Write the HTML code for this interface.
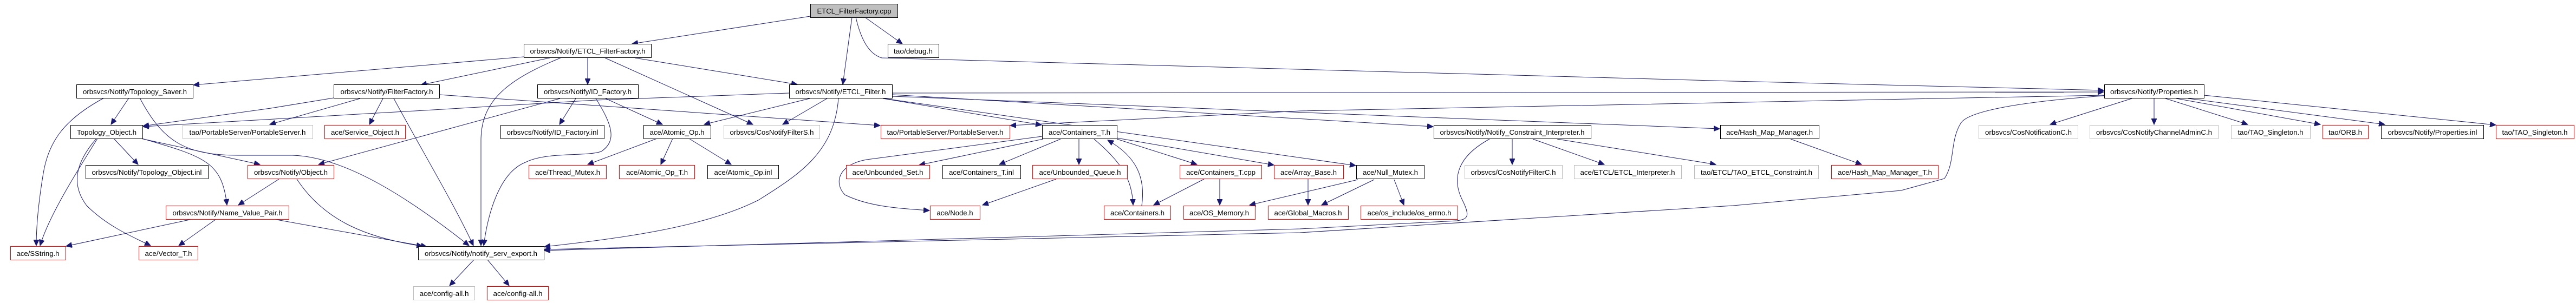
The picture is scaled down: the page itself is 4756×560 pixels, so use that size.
<!DOCTYPE html>
<html><head><meta charset="utf-8"><style>
html,body{margin:0;padding:0;background:#fff}
svg{display:block}
text{font-family:"Liberation Sans",sans-serif;font-size:13px;fill:#000}
.e{fill:none;stroke:#191970;stroke-width:1}
</style></head><body>
<svg width="4756" height="560" viewBox="0 0 4756 560" xmlns="http://www.w3.org/2000/svg">
<defs>
<marker id="a" markerUnits="userSpaceOnUse" markerWidth="12" markerHeight="10" refX="11" refY="5" orient="auto">
<path d="M0,0 L11,5 L0,10 Z" fill="#191970" stroke="#191970"/>
</marker>
</defs>
<g class="edges" marker-end="url(#a)">
<path class="e" marker-end="url(#a)" d="M1496,30 L1167,81"/>
<path class="e" marker-end="url(#a)" d="M1573,32 L1556,156"/>
<path class="e" marker-end="url(#a)" d="M1597,32 L1666,81"/>
<path class="e" marker-end="url(#a)" d="M1580,32 C1590,75 1605,100 1628,107 L3200,150 L3884,167"/>
<path class="e" marker-end="url(#a)" d="M967,105 L357,157"/>
<path class="e" marker-end="url(#a)" d="M1015,107 L777,157"/>
<path class="e" marker-end="url(#a)" d="M1085,107 L1085,156"/>
<path class="e" marker-end="url(#a)" d="M1117,107 L1390,230"/>
<path class="e" marker-end="url(#a)" d="M1172,107 L1472,156"/>
<path class="e" marker-end="url(#a)" d="M1035,107 C930,150 888,190 888,260 L888,454"/>
<path class="e" marker-end="url(#a)" d="M238,181 L205,230"/>
<path class="e" marker-end="url(#a)" d="M192,181 C120,220 90,260 80,320 C70,380 67,420 67,454"/>
<path class="e" marker-end="url(#a)" d="M258,181 C300,260 340,287 440,287 L540,287 C640,290 760,370 866,454"/>
<path class="e" marker-end="url(#a)" d="M616,181 L500,200 L264,233"/>
<path class="e" marker-end="url(#a)" d="M665,182 L498,230"/>
<path class="e" marker-end="url(#a)" d="M707,182 L682,230"/>
<path class="e" marker-end="url(#a)" d="M727,182 C780,280 840,380 874,454"/>
<path class="e" marker-end="url(#a)" d="M811,175 L1100,195 L1625,232"/>
<path class="e" marker-end="url(#a)" d="M1034,182 L800,246 L588,304"/>
<path class="e" marker-end="url(#a)" d="M1457,172 L1100,185 L800,203 L264,234"/>
<path class="e" marker-end="url(#a)" d="M1063,182 L1033,230"/>
<path class="e" marker-end="url(#a)" d="M1118,182 L1223,230"/>
<path class="e" marker-end="url(#a)" d="M1100,182 C1130,230 1140,260 1110,280 C1080,290 1010,280 970,300 C920,320 900,400 893,454"/>
<path class="e" marker-end="url(#a)" d="M1213,256 L1085,304"/>
<path class="e" marker-end="url(#a)" d="M1242,256 L1220,304"/>
<path class="e" marker-end="url(#a)" d="M1272,256 L1350,304"/>
<path class="e" marker-end="url(#a)" d="M1495,182 L1300,230"/>
<path class="e" marker-end="url(#a)" d="M1527,182 L1445,230"/>
<path class="e" marker-end="url(#a)" d="M1548,182 C1540,280 1480,320 1400,370 C1300,420 1150,440 1005,456"/>
<path class="e" marker-end="url(#a)" d="M1630,182 L1923,231"/>
<path class="e" marker-end="url(#a)" d="M1647,175 L2646,234"/>
<path class="e" marker-end="url(#a)" d="M1647,178 L3175,238"/>
<path class="e" marker-end="url(#a)" d="M1632,182 L2503,306"/>
<path class="e" marker-end="url(#a)" d="M1647,172 L3884,170"/>
<path class="e" marker-end="url(#a)" d="M3885,176 L2400,205 L1865,232"/>
<path class="e" marker-end="url(#a)" d="M3885,177 C3700,190 3630,210 3620,228 C3600,260 3610,300 3590,330 L3510,352 L3200,380 L2400,430 L1005,461"/>
<path class="e" marker-end="url(#a)" d="M2750,257 C2690,290 2680,330 2700,370 C2715,400 2710,405 2690,408 L2400,423 L1005,463"/>
<path class="e" marker-end="url(#a)" d="M2792,257 L2792,304"/>
<path class="e" marker-end="url(#a)" d="M2830,257 L2962,304"/>
<path class="e" marker-end="url(#a)" d="M2875,257 L3168,304"/>
<path class="e" marker-end="url(#a)" d="M3306,257 L3437,304"/>
<path class="e" marker-end="url(#a)" d="M3936,182 L3785,230"/>
<path class="e" marker-end="url(#a)" d="M3977,182 L3977,230"/>
<path class="e" marker-end="url(#a)" d="M3998,182 L4150,230"/>
<path class="e" marker-end="url(#a)" d="M4018,182 L4284,230"/>
<path class="e" marker-end="url(#a)" d="M4040,182 L4403,230"/>
<path class="e" marker-end="url(#a)" d="M4069,176 L4608,231"/>
<path class="e" marker-end="url(#a)" d="M1926,257 L1697,305"/>
<path class="e" marker-end="url(#a)" d="M1924,252 L1600,295 C1545,305 1540,340 1560,360 C1600,380 1650,385 1716,389"/>
<path class="e" marker-end="url(#a)" d="M1958,257 L1845,304"/>
<path class="e" marker-end="url(#a)" d="M1992,257 L1992,304"/>
<path class="e" marker-end="url(#a)" d="M2020,257 C2070,300 2090,330 2092,379"/>
<path class="e" marker-end="url(#a)" d="M2108,380 C2115,330 2100,290 2045,259"/>
<path class="e" marker-end="url(#a)" d="M2062,257 L2210,304"/>
<path class="e" marker-end="url(#a)" d="M2062,255 L2352,305"/>
<path class="e" marker-end="url(#a)" d="M1950,331 L1814,379"/>
<path class="e" marker-end="url(#a)" d="M2223,331 L2130,379"/>
<path class="e" marker-end="url(#a)" d="M2252,331 L2252,379"/>
<path class="e" marker-end="url(#a)" d="M2507,332 L2307,379"/>
<path class="e" marker-end="url(#a)" d="M2537,332 L2440,379"/>
<path class="e" marker-end="url(#a)" d="M2574,332 L2592,379"/>
<path class="e" marker-end="url(#a)" d="M2415,331 L2415,379"/>
<path class="e" marker-end="url(#a)" d="M180,256 C140,320 90,400 74,454"/>
<path class="e" marker-end="url(#a)" d="M210,256 L255,304"/>
<path class="e" marker-end="url(#a)" d="M178,256 C140,300 130,340 160,380 C200,420 250,440 278,454"/>
<path class="e" marker-end="url(#a)" d="M260,256 L480,304"/>
<path class="e" marker-end="url(#a)" d="M262,256 C380,290 410,300 419,379"/>
<path class="e" marker-end="url(#a)" d="M515,331 L440,379"/>
<path class="e" marker-end="url(#a)" d="M548,331 C600,410 680,440 780,455"/>
<path class="e" marker-end="url(#a)" d="M355,405 L122,455"/>
<path class="e" marker-end="url(#a)" d="M399,405 L330,454"/>
<path class="e" marker-end="url(#a)" d="M505,405 L788,456"/>
<path class="e" marker-end="url(#a)" d="M875,480 L830,528"/>
<path class="e" marker-end="url(#a)" d="M900,480 L940,528"/>
</g>
<g id="nodes"></g>
<g stroke-width="1">
<!-- nodes: rect + text -->
<rect x="1496.5" y="7.5" width="161" height="25" fill="#bfbfbf" stroke="#000"/><text x="1577" y="25" text-anchor="middle" textLength="137" lengthAdjust="spacingAndGlyphs">ETCL_FilterFactory.cpp</text>
<rect x="967.5" y="81.5" width="235" height="25" fill="#fff" stroke="#000"/><text x="1085" y="99" text-anchor="middle" textLength="213" lengthAdjust="spacingAndGlyphs">orbsvcs/Notify/ETCL_FilterFactory.h</text>
<rect x="1639.5" y="81.5" width="94" height="25" fill="#fff" stroke="#000"/><text x="1686" y="99" text-anchor="middle" textLength="72" lengthAdjust="spacingAndGlyphs">tao/debug.h</text>
<rect x="141.5" y="156.5" width="215" height="25" fill="#fff" stroke="#000"/><text x="249" y="174" text-anchor="middle" textLength="192" lengthAdjust="spacingAndGlyphs">orbsvcs/Notify/Topology_Saver.h</text>
<rect x="616.5" y="156.5" width="195" height="25" fill="#fff" stroke="#000"/><text x="714" y="174" text-anchor="middle" textLength="171" lengthAdjust="spacingAndGlyphs">orbsvcs/Notify/FilterFactory.h</text>
<rect x="992.5" y="156.5" width="186" height="25" fill="#fff" stroke="#000"/><text x="1085" y="174" text-anchor="middle" textLength="162" lengthAdjust="spacingAndGlyphs">orbsvcs/Notify/ID_Factory.h</text>
<rect x="1457.5" y="156.5" width="190" height="25" fill="#fff" stroke="#000"/><text x="1552" y="174" text-anchor="middle" textLength="167" lengthAdjust="spacingAndGlyphs">orbsvcs/Notify/ETCL_Filter.h</text>
<rect x="3885.5" y="156.5" width="184" height="25" fill="#fff" stroke="#000"/><text x="3977" y="174" text-anchor="middle" textLength="162" lengthAdjust="spacingAndGlyphs">orbsvcs/Notify/Properties.h</text>

<rect x="130.5" y="231.5" width="133" height="25" fill="#fff" stroke="#000"/><text x="197" y="249" text-anchor="middle" textLength="110" lengthAdjust="spacingAndGlyphs">Topology_Object.h</text>
<rect x="337.5" y="231.5" width="240" height="25" fill="#fff" stroke="#bfbfbf"/><text x="457" y="249" text-anchor="middle" textLength="215" lengthAdjust="spacingAndGlyphs">tao/PortableServer/PortableServer.h</text>
<rect x="599.5" y="231.5" width="149" height="25" fill="#fff" stroke="#f00"/><text x="674" y="249" text-anchor="middle" textLength="126" lengthAdjust="spacingAndGlyphs">ace/Service_Object.h</text>
<rect x="924.5" y="231.5" width="191" height="25" fill="#fff" stroke="#000"/><text x="1020" y="249" text-anchor="middle" textLength="169" lengthAdjust="spacingAndGlyphs">orbsvcs/Notify/ID_Factory.inl</text>
<rect x="1188.5" y="231.5" width="124" height="25" fill="#fff" stroke="#000"/><text x="1250" y="249" text-anchor="middle" textLength="101" lengthAdjust="spacingAndGlyphs">ace/Atomic_Op.h</text>
<rect x="1336.5" y="231.5" width="177" height="25" fill="#fff" stroke="#bfbfbf"/><text x="1425" y="249" text-anchor="middle" textLength="155" lengthAdjust="spacingAndGlyphs">orbsvcs/CosNotifyFilterS.h</text>
<rect x="1626.5" y="231.5" width="238" height="25" fill="#fff" stroke="#f00"/><text x="1745" y="249" text-anchor="middle" textLength="215" lengthAdjust="spacingAndGlyphs">tao/PortableServer/PortableServer.h</text>
<rect x="1924.5" y="231.5" width="138" height="25" fill="#fff" stroke="#000"/><text x="1993" y="249" text-anchor="middle" textLength="114" lengthAdjust="spacingAndGlyphs">ace/Containers_T.h</text>
<rect x="2647.5" y="231.5" width="290" height="25" fill="#fff" stroke="#000"/><text x="2792" y="249" text-anchor="middle" textLength="267" lengthAdjust="spacingAndGlyphs">orbsvcs/Notify/Notify_Constraint_Interpreter.h</text>
<rect x="3176.5" y="231.5" width="182" height="25" fill="#fff" stroke="#000"/><text x="3267" y="249" text-anchor="middle" textLength="160" lengthAdjust="spacingAndGlyphs">ace/Hash_Map_Manager.h</text>
<rect x="3653.5" y="231.5" width="183" height="25" fill="#fff" stroke="#bfbfbf"/><text x="3745" y="249" text-anchor="middle" textLength="160" lengthAdjust="spacingAndGlyphs">orbsvcs/CosNotificationC.h</text>
<rect x="3858.5" y="231.5" width="237" height="25" fill="#fff" stroke="#bfbfbf"/><text x="3977" y="249" text-anchor="middle" textLength="214" lengthAdjust="spacingAndGlyphs">orbsvcs/CosNotifyChannelAdminC.h</text>
<rect x="4119.5" y="231.5" width="146" height="25" fill="#fff" stroke="#bfbfbf"/><text x="4192" y="249" text-anchor="middle" textLength="121" lengthAdjust="spacingAndGlyphs">tao/TAO_Singleton.h</text>
<rect x="4288.5" y="231.5" width="84" height="25" fill="#fff" stroke="#f00"/><text x="4330" y="249" text-anchor="middle" textLength="62" lengthAdjust="spacingAndGlyphs">tao/ORB.h</text>
<rect x="4396.5" y="231.5" width="189" height="25" fill="#fff" stroke="#000"/><text x="4491" y="249" text-anchor="middle" textLength="165" lengthAdjust="spacingAndGlyphs">orbsvcs/Notify/Properties.inl</text>
<rect x="4608.5" y="231.5" width="144" height="25" fill="#fff" stroke="#f00"/><text x="4680" y="249" text-anchor="middle" textLength="121" lengthAdjust="spacingAndGlyphs">tao/TAO_Singleton.h</text>

<rect x="158.5" y="305.5" width="226" height="25" fill="#fff" stroke="#000"/><text x="271" y="323" text-anchor="middle" textLength="203" lengthAdjust="spacingAndGlyphs">orbsvcs/Notify/Topology_Object.inl</text>
<rect x="457.5" y="305.5" width="159" height="25" fill="#fff" stroke="#f00"/><text x="537" y="323" text-anchor="middle" textLength="136" lengthAdjust="spacingAndGlyphs">orbsvcs/Notify/Object.h</text>
<rect x="976.5" y="305.5" width="143" height="25" fill="#fff" stroke="#f00"/><text x="1048" y="323" text-anchor="middle" textLength="120" lengthAdjust="spacingAndGlyphs">ace/Thread_Mutex.h</text>
<rect x="1143.5" y="305.5" width="139" height="25" fill="#fff" stroke="#f00"/><text x="1213" y="323" text-anchor="middle" textLength="114" lengthAdjust="spacingAndGlyphs">ace/Atomic_Op_T.h</text>
<rect x="1306.5" y="305.5" width="131" height="25" fill="#fff" stroke="#000"/><text x="1372" y="323" text-anchor="middle" textLength="107" lengthAdjust="spacingAndGlyphs">ace/Atomic_Op.inl</text>
<rect x="1562.5" y="305.5" width="154" height="25" fill="#fff" stroke="#f00"/><text x="1639" y="323" text-anchor="middle" textLength="131" lengthAdjust="spacingAndGlyphs">ace/Unbounded_Set.h</text>
<rect x="1740.5" y="305.5" width="144" height="25" fill="#fff" stroke="#000"/><text x="1812" y="323" text-anchor="middle" textLength="120" lengthAdjust="spacingAndGlyphs">ace/Containers_T.inl</text>
<rect x="1906.5" y="305.5" width="175" height="25" fill="#fff" stroke="#f00"/><text x="1994" y="323" text-anchor="middle" textLength="151" lengthAdjust="spacingAndGlyphs">ace/Unbounded_Queue.h</text>
<rect x="2178.5" y="305.5" width="151" height="25" fill="#fff" stroke="#f00"/><text x="2254" y="323" text-anchor="middle" textLength="128" lengthAdjust="spacingAndGlyphs">ace/Containers_T.cpp</text>
<rect x="2352.5" y="305.5" width="128" height="25" fill="#fff" stroke="#f00"/><text x="2416" y="323" text-anchor="middle" textLength="104" lengthAdjust="spacingAndGlyphs">ace/Array_Base.h</text>
<rect x="2504.5" y="305.5" width="125" height="25" fill="#fff" stroke="#000"/><text x="2567" y="323" text-anchor="middle" textLength="102" lengthAdjust="spacingAndGlyphs">ace/Null_Mutex.h</text>
<rect x="2704.5" y="305.5" width="180" height="25" fill="#fff" stroke="#bfbfbf"/><text x="2794" y="323" text-anchor="middle" textLength="157" lengthAdjust="spacingAndGlyphs">orbsvcs/CosNotifyFilterC.h</text>
<rect x="2906.5" y="305.5" width="198" height="25" fill="#fff" stroke="#bfbfbf"/><text x="3005" y="323" text-anchor="middle" textLength="175" lengthAdjust="spacingAndGlyphs">ace/ETCL/ETCL_Interpreter.h</text>
<rect x="3128.5" y="305.5" width="229" height="25" fill="#fff" stroke="#bfbfbf"/><text x="3243" y="323" text-anchor="middle" textLength="206" lengthAdjust="spacingAndGlyphs">tao/ETCL/TAO_ETCL_Constraint.h</text>
<rect x="3381.5" y="305.5" width="197" height="25" fill="#fff" stroke="#f00"/><text x="3480" y="323" text-anchor="middle" textLength="174" lengthAdjust="spacingAndGlyphs">ace/Hash_Map_Manager_T.h</text>

<rect x="306.5" y="380.5" width="227" height="25" fill="#fff" stroke="#f00"/><text x="420" y="398" text-anchor="middle" textLength="203" lengthAdjust="spacingAndGlyphs">orbsvcs/Notify/Name_Value_Pair.h</text>
<rect x="1717.5" y="380.5" width="92" height="25" fill="#fff" stroke="#f00"/><text x="1763" y="398" text-anchor="middle" textLength="67" lengthAdjust="spacingAndGlyphs">ace/Node.h</text>
<rect x="2038.5" y="380.5" width="123" height="25" fill="#fff" stroke="#f00"/><text x="2100" y="398" text-anchor="middle" textLength="100" lengthAdjust="spacingAndGlyphs">ace/Containers.h</text>
<rect x="2185.5" y="380.5" width="132" height="25" fill="#fff" stroke="#f00"/><text x="2251" y="398" text-anchor="middle" textLength="110" lengthAdjust="spacingAndGlyphs">ace/OS_Memory.h</text>
<rect x="2341.5" y="380.5" width="148" height="25" fill="#fff" stroke="#f00"/><text x="2415" y="398" text-anchor="middle" textLength="125" lengthAdjust="spacingAndGlyphs">ace/Global_Macros.h</text>
<rect x="2512.5" y="380.5" width="179" height="25" fill="#fff" stroke="#f00"/><text x="2602" y="398" text-anchor="middle" textLength="155" lengthAdjust="spacingAndGlyphs">ace/os_include/os_errno.h</text>

<rect x="19.5" y="455.5" width="102" height="25" fill="#fff" stroke="#f00"/><text x="70" y="473" text-anchor="middle" textLength="79" lengthAdjust="spacingAndGlyphs">ace/SString.h</text>
<rect x="256.5" y="455.5" width="109" height="25" fill="#fff" stroke="#f00"/><text x="311" y="473" text-anchor="middle" textLength="87" lengthAdjust="spacingAndGlyphs">ace/Vector_T.h</text>
<rect x="772.5" y="455.5" width="232" height="25" fill="#fff" stroke="#000"/><text x="888" y="473" text-anchor="middle" textLength="208" lengthAdjust="spacingAndGlyphs">orbsvcs/Notify/notify_serv_export.h</text>

<rect x="763.5" y="529.5" width="113" height="25" fill="#fff" stroke="#bfbfbf"/><text x="820" y="547" text-anchor="middle" textLength="91" lengthAdjust="spacingAndGlyphs">ace/config-all.h</text>
<rect x="899.5" y="529.5" width="113" height="25" fill="#fff" stroke="#f00"/><text x="956" y="547" text-anchor="middle" textLength="91" lengthAdjust="spacingAndGlyphs">ace/config-all.h</text>
</g>
</svg>
</body></html>
